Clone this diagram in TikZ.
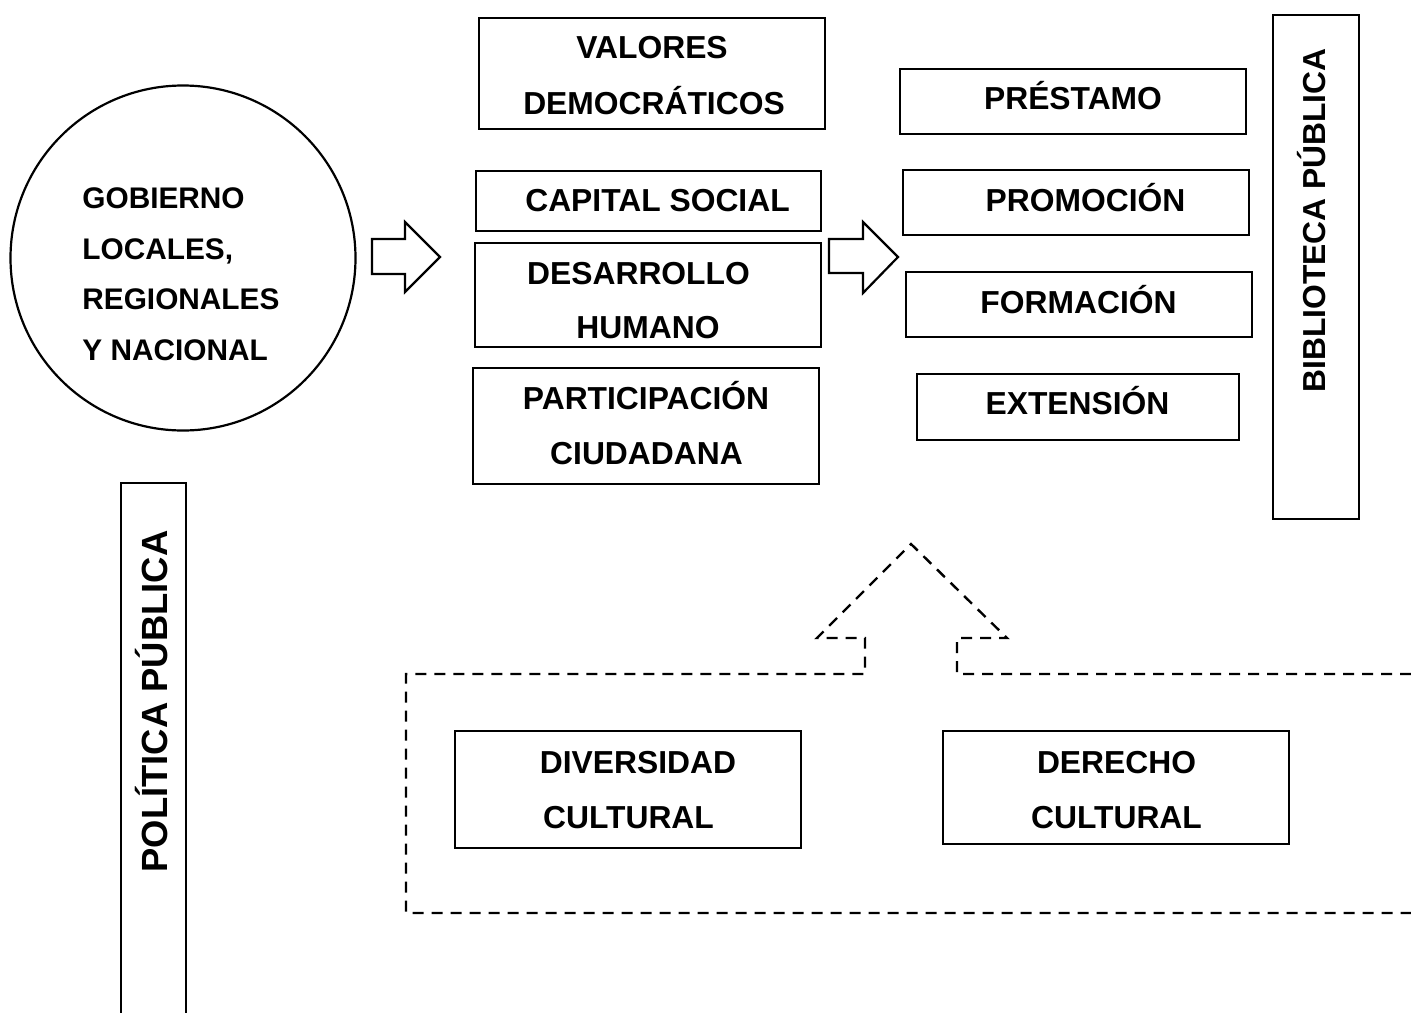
\documentclass[tikz,border=0pt]{standalone}
\usepackage{fontspec}
\setmainfont{Liberation Sans}
\usetikzlibrary{fit}
\tikzset{
  box/.style={draw, line width=0.8pt, inner sep=0pt, fit={#1}},
  lbl/.style={font=\fontsize{15.9}{19}\selectfont\bfseries, inner sep=0pt, anchor=base},
  clbl/.style={font=\fontsize{14.9}{18}\selectfont\bfseries, inner sep=0pt, anchor=base west},
  blockarrow/.style={draw, line width=1.1pt, line join=miter, fill=white},
  dashline/.style={draw, line width=1.2pt, dash pattern=on 5.5pt off 4pt}
}
\begin{document}
\begin{tikzpicture}[x=0.5pt, y=-0.5pt]
\useasboundingbox (0,0) rectangle (1411,1012);
\clip (0,0) rectangle (1411,1012);
\fill[white] (0,0) rectangle (1411,1012);

% circle
\node[draw, circle, line width=1.1pt, inner sep=0pt, minimum size=172.5pt] (gob) at (183,258) {};
\node[clbl] (g1) at (82,208) {GOBIERNO};
\node[clbl] (g2) at (82,259) {LOCALES,};
\node[clbl] (g3) at (82,309) {REGIONALES};
\node[clbl] (g4) at (82,360) {Y NACIONAL};

% middle column
\node[box={(479,18)(825,129)}] (valores) {};
\node[lbl] (v1) at (652,58) {VALORES};
\node[lbl] (v2) at (654,114) {DEMOCRÁTICOS};

\node[box={(476,171)(821,231)}] (capital) {};
\node[lbl] (c1) at (657.5,211.5) {CAPITAL SOCIAL};

\node[box={(475,243)(821,347)}] (desarrollo) {};
\node[lbl] (d1) at (638.5,284.5) {DESARROLLO};
\node[lbl] (d2) at (648,338.5) {HUMANO};

\node[box={(473,368)(819,484)}] (particip) {};
\node[lbl] (p1) at (646,409.5) {PARTICIPACIÓN};
\node[lbl] (p2) at (646.5,464.5) {CIUDADANA};

% right column
\node[box={(900,69)(1246,134)}] (prestamo) {};
\node[lbl] (r1) at (1073,109.5) {PRÉSTAMO};
\node[box={(903,170)(1249,235)}] (promocion) {};
\node[lbl] (r2) at (1085.5,211.5) {PROMOCIÓN};
\node[box={(906,272)(1252,337)}] (formacion) {};
\node[lbl] (r3) at (1078.5,313.5) {FORMACIÓN};
\node[box={(917,374)(1239,440)}] (extension) {};
\node[lbl] (r4) at (1077.5,414.5) {EXTENSIÓN};

% vertical boxes
\node[box={(1273,15)(1359,519)}] (biblio) {};
\node[font=\fontsize{15.9}{19}\selectfont\bfseries, inner sep=0pt, rotate=90] (bt) at (1312,220.5) {BIBLIOTECA PÚBLICA};
\node[box={(121,483)(186,1030)}] (politica) {};
\node[font=\fontsize{18.2}{22}\selectfont\bfseries, inner sep=0pt, rotate=90] (pt) at (151.5,701.5) {POLÍTICA PÚBLICA};

% bottom boxes
\node[box={(455,731)(801,848)}] (diversidad) {};
\node[lbl] (dv1) at (638,773.5) {DIVERSIDAD};
\node[lbl] (dv2) at (628.5,828.5) {CULTURAL};
\node[box={(943,731)(1289,844)}] (derecho) {};
\node[lbl] (dr1) at (1116.5,773.5) {DERECHO};
\node[lbl] (dr2) at (1116.5,828.5) {CULTURAL};

% block arrows
\draw[blockarrow] (372,239) -- (405,239) -- (405,222) -- (440,257) -- (405,292) -- (405,274) -- (372,274) -- cycle;
\draw[blockarrow] (829,239) -- (863,239) -- (863,222) -- (898,257) -- (863,293) -- (863,273) -- (829,273) -- cycle;

% dashed frame with up arrow
\draw[dashline] (1430,674) -- (957,674) -- (957,638) -- (1007,638) -- (911,544) -- (817,638) -- (865,638) -- (865,674) -- (406,674) -- (406,913) -- (1430,913);
\end{tikzpicture}
\end{document}
